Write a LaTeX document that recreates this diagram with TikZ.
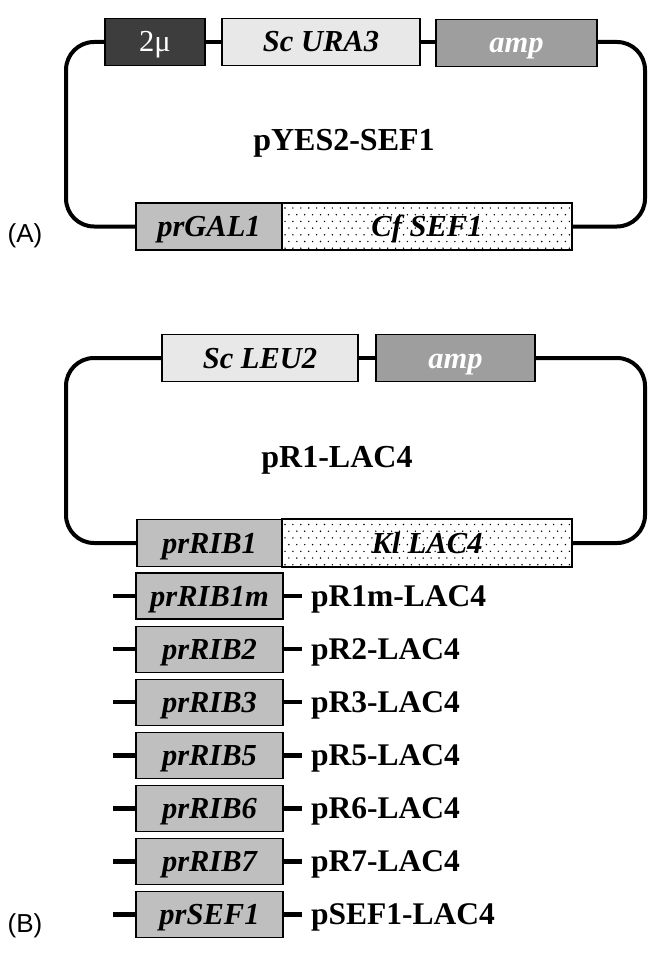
\documentclass[tikz,border=0pt]{standalone}
\usepackage{fontspec}
\setmainfont{Liberation Serif}
\newfontfamily\arialf{Liberation Sans}
\begin{document}
\begin{tikzpicture}[x=1pt,y=-1pt,
  gbox/.style={draw=black, line width=1.2pt, inner sep=0pt, minimum height=47pt,
    text height=20pt, text depth=0pt,
    font=\fontsize{30.5}{30.5}\selectfont\bfseries\itshape},
  darkfill/.style={fill=black!76, text=white, font=\fontsize{30.5}{30.5}\selectfont},
  lightfill/.style={fill=black!9},
  ampfill/.style={fill=black!38, text=white},
  promfill/.style={fill=black!25},
  dotfill/.style={fill=white},
  backbone/.style={line width=4pt, line join=round},
  stub/.style={line width=4.5pt},
  title/.style={font=\fontsize{32}{32}\selectfont\bfseries, anchor=base},
  plabel/.style={font=\fontsize{31.5}{31.5}\selectfont\bfseries, anchor=base west, inner sep=0pt},
  panel/.style={font=\arialf\fontsize{26}{26}\selectfont}
]
\useasboundingbox (0,0) rectangle (661,955);

% ---------------- Panel A ----------------
\node[gbox, darkfill, minimum width=100pt] (mu) at (155,42) {2\symbol{"03BC}};
\node[gbox, lightfill, minimum width=198pt] (ura) at (321,42) {Sc URA3};
\node[gbox, ampfill, minimum width=161pt] (ampA) at (516.5,43) {amp};
\node[gbox, promfill, minimum width=146pt] (gal) at (209,226.5) {prGAL1};
\node[gbox, dotfill, minimum width=290pt] (cfs) at (427,226.5) {};
\begin{scope}
  \clip (cfs.south west) rectangle (cfs.north east);
  \foreach \j in {0,...,6} {
    \foreach \i in {0,...,36} {
      \fill ({285+\i*7.9+mod(\j,2)*3.9}, {208+\j*6.7}) circle (0.8pt);
    }
  }
\end{scope}
\node[gbox, draw=none, fill=none] at (cfs.center) {Cf SEF1};
\draw[line width=1.2pt] (cfs.south west) rectangle (cfs.north east);

\draw[backbone] (mu.east) -- (ura.west);
\draw[backbone] (ura.east) -- (ampA.west |- ura.east);
\draw[backbone, rounded corners=28pt] (mu.west) -- (66,42) -- (66,226.5) -- (gal.west);
\draw[backbone, rounded corners=28pt] (ampA.east |- 0,42) -- (645,42) -- (645,226.5) -- (cfs.east);

\node[title] (tA) at (344,150) {pYES2-SEF1};
\node[panel] (lA) at (25,236) {(A)};

% ---------------- Panel B ----------------
\node[gbox, lightfill, minimum width=196pt] (leu) at (260,358) {Sc LEU2};
\node[gbox, ampfill, minimum width=159pt] (ampB) at (455.5,358) {amp};
\node[gbox, promfill, minimum width=145pt] (rib) at (209.5,543) {prRIB1};
\node[gbox, dotfill, minimum width=290pt] (kl) at (427,543) {};
\begin{scope}
  \clip (kl.south west) rectangle (kl.north east);
  \foreach \j in {0,...,6} {
    \foreach \i in {0,...,36} {
      \fill ({285+\i*7.9+mod(\j,2)*3.9}, {524.5+\j*6.7}) circle (0.8pt);
    }
  }
\end{scope}
\node[gbox, draw=none, fill=none] at (kl.center) {Kl LAC4};
\draw[line width=1.2pt] (kl.south west) rectangle (kl.north east);

\draw[backbone] (leu.east) -- (ampB.west);
\draw[backbone, rounded corners=28pt] (leu.west) -- (66,358) -- (66,543) -- (rib.west);
\draw[backbone, rounded corners=28pt] (ampB.east) -- (645,358) -- (645,543) -- (kl.east);

\node[title] (tB) at (337,467) {pR1-LAC4};

% ---------------- promoter variants ----------------
\foreach \k/\prom/\plas [count=\n from 0] in
  {r1m/prRIB1m/pR1m-LAC4, r2/prRIB2/pR2-LAC4, r3/prRIB3/pR3-LAC4,
   r5/prRIB5/pR5-LAC4, r6/prRIB6/pR6-LAC4, r7/prRIB7/pR7-LAC4, sef/prSEF1/pSEF1-LAC4} {
  \node[gbox, promfill, minimum width=147pt, minimum height=46pt] (b\k) at (209.5,{596+53.1*\n}) {\prom};
  \coordinate (l\k) at (113,{596+53.1*\n});
  \coordinate (r\k) at (302,{596+53.1*\n});
  \draw[stub] (l\k) -- (b\k.west);
  \draw[stub] (b\k.east) -- (r\k);
  \node[plabel] (t\k) at (311,{606+53.1*\n}) {\plas};
}

\node[panel] (lB) at (25,926) {(B)};
\end{tikzpicture}
\end{document}
